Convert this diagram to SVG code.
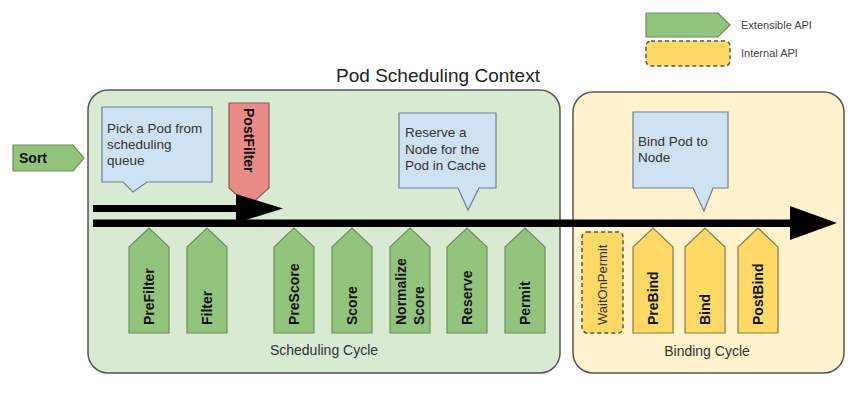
<svg xmlns="http://www.w3.org/2000/svg" width="864" height="416" viewBox="0 0 864 416">
<style>
text{font-family:"Liberation Sans",Arial,sans-serif;fill:#333}
.green{fill:#93c47d;stroke:#6b8f5b;stroke-width:1.2}
.yellow{fill:#ffd966;stroke:#8a7a4a;stroke-width:1.2}
.call{fill:#cfe2f3;stroke:#6f7f8f;stroke-width:1.2}
.lbl{font-size:14px;font-weight:bold;fill:#111}
.ct{font-size:13.5px}
.leg{font-size:11px;fill:#444}
</style>
<defs>
<path id="up" d="M0,105 L0,19 L20,0 L40,19 L40,105 Z"/>
</defs>
<rect width="864" height="416" fill="#fff"/>

<g id="legend">
<path class="green" d="M646,13 L718,13 L730,25 L718,37 L646,37 Z"/>
<text class="leg" x="741" y="29">Extensible API</text>
<rect x="646" y="41" width="84" height="25" rx="5" fill="#ffd966" stroke="#555" stroke-width="1.5" stroke-dasharray="4,3"/>
<text class="leg" x="741" y="57">Internal API</text>
</g>

<text x="438" y="82" text-anchor="middle" style="font-size:19px;fill:#222">Pod Scheduling Context</text>

<g id="scheduling-cycle">
<rect x="88" y="90" width="472" height="283" rx="20" fill="#d9ead3" stroke="#555" stroke-width="1.5"/>
<text x="324" y="355" text-anchor="middle" style="font-size:14px">Scheduling Cycle</text>
</g>
<g id="binding-cycle">
<rect x="573" y="92" width="271" height="281" rx="20" fill="#fff2cc" stroke="#555" stroke-width="1.5"/>
<text x="707" y="356" text-anchor="middle" style="font-size:14px">Binding Cycle</text>
</g>

<g id="sort">
<path class="green" d="M13,145 L73,145 L84,158 L73,171 L13,171 Z"/>
<text class="lbl" x="19" y="163">Sort</text>
</g>

<g id="callout-pick">
<path class="call" d="M102,107 L212,107 L212,182 L147,182 L133,192 L123,182 L102,182 Z"/>
<text class="ct" x="107" y="133">Pick a Pod from</text>
<text class="ct" x="107" y="149">scheduling</text>
<text class="ct" x="107" y="165">queue</text>
</g>

<g id="callout-reserve">
<path class="call" d="M399,113 L496,113 L496,188 L479,188 L468,210 L458,188 L399,188 Z"/>
<text class="ct" x="405" y="137">Reserve a</text>
<text class="ct" x="405" y="154">Node for the</text>
<text class="ct" x="405" y="170">Pod in Cache</text>
</g>

<g id="callout-bind">
<path class="call" d="M633,112 L728,112 L728,188 L713,188 L704,211 L693,188 L633,188 Z"/>
<text class="ct" x="638" y="146">Bind Pod to</text>
<text class="ct" x="638" y="162">Node</text>
</g>

<g id="postfilter">
<path d="M229,103 L269,103 L269,188 L249,206 L229,188 Z" fill="#e98b86" stroke="#8a5a5a" stroke-width="1.2"/>
<text class="lbl" transform="translate(244,108) rotate(90)">PostFilter</text>
</g>

<g id="connectors">
<path d="M93,205 L236,205 L236,194 L283,208.5 L236,223 L236,212 L93,212 Z" fill="#000"/>
<path d="M93,219.5 L790,219.5 L790,206 L837,223 L790,240 L790,227 L93,227 Z" fill="#000"/>
</g>

<g id="prefilter"><use href="#up" class="green" x="129" y="228"/><text class="lbl" transform="translate(154,325) rotate(-90)">PreFilter</text></g>
<g id="filter"><use href="#up" class="green" x="187" y="228"/><text class="lbl" transform="translate(212,325) rotate(-90)">Filter</text></g>
<g id="prescore"><use href="#up" class="green" x="274" y="228"/><text class="lbl" transform="translate(299,325) rotate(-90)">PreScore</text></g>
<g id="score"><use href="#up" class="green" x="332" y="228"/><text class="lbl" transform="translate(357,325) rotate(-90)">Score</text></g>
<g id="normalize-score"><use href="#up" class="green" x="390" y="228"/><text class="lbl" transform="translate(406,325) rotate(-90)">Normalize</text><text class="lbl" transform="translate(424,325) rotate(-90)">Score</text></g>
<g id="reserve"><use href="#up" class="green" x="447" y="228"/><text class="lbl" transform="translate(472,325) rotate(-90)">Reserve</text></g>
<g id="permit"><use href="#up" class="green" x="505" y="228"/><text class="lbl" transform="translate(530,325) rotate(-90)">Permit</text></g>

<g id="waitonpermit">
<rect x="582" y="232" width="41" height="101" rx="5" fill="#ffd966" stroke="#555" stroke-width="1.5" stroke-dasharray="4,3"/>
<text transform="translate(607,325) rotate(-90)" style="font-size:13px">WaitOnPermit</text>
</g>
<g id="prebind"><use href="#up" class="yellow" x="633" y="228"/><text class="lbl" transform="translate(658,325) rotate(-90)">PreBind</text></g>
<g id="bind"><use href="#up" class="yellow" x="685" y="228"/><text class="lbl" transform="translate(710,325) rotate(-90)">Bind</text></g>
<g id="postbind"><use href="#up" class="yellow" x="738" y="228"/><text class="lbl" transform="translate(763,325) rotate(-90)">PostBind</text></g>
</svg>
